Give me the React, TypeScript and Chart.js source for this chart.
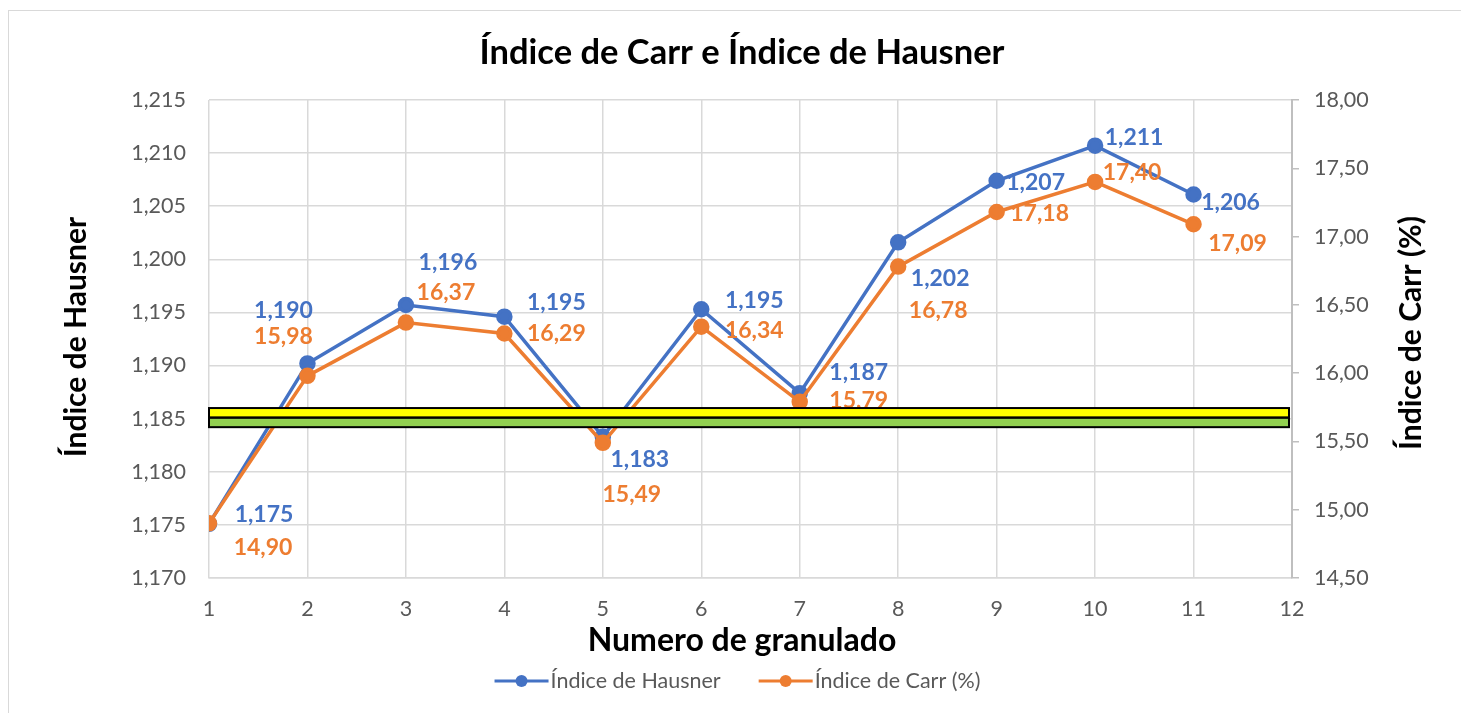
import React, { useEffect, useRef } from "react";
import { Chart, registerables } from "chart.js";

Chart.register(...registerables);

// ---- Data ----
const granulados = [1, 2, 3, 4, 5, 6, 7, 8, 9, 10, 11];
const hausner = [1.1751, 1.1902, 1.1957, 1.1946, 1.1833, 1.1953, 1.1874, 1.2016, 1.2074, 1.2107, 1.2061];
const carr = [14.9, 15.98, 16.37, 16.29, 15.49, 16.34, 15.79, 16.78, 17.18, 17.4, 17.09];

const xTicks = [1, 2, 3, 4, 5, 6, 7, 8, 9, 10, 11, 12];
const hausnerRange = [1.17, 1.215];
const carrRange = [14.5, 18.0];

// reference band (left axis units): yellow top, divider, green bottom
const bandLimits = [1.186, 1.1851, 1.1842];

const TITLE = "Índice de Carr e Índice de Hausner";
const X_TITLE = "Numero de granulado";
const Y_TITLE = "Índice de Hausner";
const Y2_TITLE = "Índice de Carr (%)";
const SERIES_NAMES = ["Índice de Hausner", "Índice de Carr (%)"];

// label offsets (px, relative to the point) - Excel manual label placement
const hausnerLabelOffsets = [
  [55, -9], [-24, -53], [42, -42], [52, -14], [37, 23], [53, -9], [59, -21], [42, 36], [39, 2], [39, -8], [37, 8],
];
const carrLabelOffsets = [
  [54, 24], [-24, -39], [40, -30], [52, 0], [29, 52], [53, 4], [59, -1], [40, 44], [43, 2], [37, -9], [44, 19],
];

const BLUE = "#4472C4";
const ORANGE = "#ED7D31";
const FONT = "Lato, 'Open Sans', sans-serif";
const fmt = (v: number, d: number) => v.toFixed(d).replace(".", ",");

export default function App() {
  const ref = useRef<HTMLCanvasElement | null>(null);

  useEffect(() => {
    const canvas = ref.current;
    if (!canvas) return;

    const overlay = {
      id: "overlay",
      afterDatasetsDraw(chart: any) {
        const ctx = chart.ctx;
        const xs = chart.scales.x;
        const ys = chart.scales.y;
        const ys2 = chart.scales.y1;
        ctx.save();
        ctx.font = `bold 23px ${FONT}`;
        ctx.textAlign = "center";
        ctx.textBaseline = "middle";
        granulados.forEach((g, i) => {
          const px = xs.getPixelForValue(g);
          ctx.fillStyle = BLUE;
          ctx.fillText(fmt(hausner[i], 3), px + hausnerLabelOffsets[i][0], ys.getPixelForValue(hausner[i]) + hausnerLabelOffsets[i][1]);
          ctx.fillStyle = ORANGE;
          ctx.fillText(fmt(carr[i], 2), px + carrLabelOffsets[i][0], ys2.getPixelForValue(carr[i]) + carrLabelOffsets[i][1]);
        });
        // band
        const ca = chart.chartArea;
        const yT = ys.getPixelForValue(bandLimits[0]);
        const yM = ys.getPixelForValue(bandLimits[1]);
        const yB = ys.getPixelForValue(bandLimits[2]);
        const l = ca.left;
        const r = ca.right - 3;
        ctx.fillStyle = "#FFFF00";
        ctx.fillRect(l, yT, r - l, yM - yT);
        ctx.fillStyle = "#92D050";
        ctx.fillRect(l, yM, r - l, yB - yM);
        ctx.strokeStyle = "#000000";
        ctx.lineWidth = 2;
        ctx.strokeRect(l, yT, r - l, yM - yT);
        ctx.strokeRect(l, yM, r - l, yB - yM);
        ctx.restore();
      },
      afterDraw(chart: any) {
        const ctx = chart.ctx;
        ctx.save();
        ctx.textAlign = "center";
        ctx.textBaseline = "middle";
        ctx.fillStyle = "#000000";
        ctx.font = `bold 34.5px ${FONT}`;
        ctx.fillText(TITLE, 742, 53);
        ctx.font = `bold 32px ${FONT}`;
        ctx.fillText(X_TITLE, 742, 641);
        ctx.font = `bold 30px ${FONT}`;
        ctx.save();
        ctx.translate(76, 337);
        ctx.rotate(-Math.PI / 2);
        ctx.fillText(Y_TITLE, 0, 0);
        ctx.restore();
        ctx.save();
        ctx.translate(1411, 333);
        ctx.rotate(-Math.PI / 2);
        ctx.fillText(Y2_TITLE, 0, 0);
        ctx.restore();
        // legend
        ctx.font = `21.5px ${FONT}`;
        ctx.textAlign = "left";
        const colors = [BLUE, ORANGE];
        const lineW = 54;
        const gapText = 2;
        const gapItem = 38;
        const widths = SERIES_NAMES.map((n) => ctx.measureText(n).width);
        const total = widths.reduce((a, b) => a + b, 0) + 2 * (lineW + gapText) + gapItem;
        let x = 737.5 - total / 2;
        const y = 681;
        SERIES_NAMES.forEach((n, i) => {
          ctx.strokeStyle = colors[i];
          ctx.lineWidth = 3;
          ctx.beginPath();
          ctx.moveTo(x, y);
          ctx.lineTo(x + lineW, y);
          ctx.stroke();
          ctx.fillStyle = colors[i];
          ctx.beginPath();
          ctx.arc(x + lineW / 2, y, 6, 0, Math.PI * 2);
          ctx.fill();
          ctx.fillStyle = "#595959";
          ctx.fillText(n, x + lineW + gapText, y);
          x += lineW + gapText + widths[i] + gapItem;
        });
        ctx.restore();
      },
    };

    const chart = new Chart(canvas, {
      type: "line",
      data: {
        datasets: [
          {
            label: SERIES_NAMES[0],
            data: granulados.map((g, i) => ({ x: g, y: hausner[i] })),
            yAxisID: "y",
            borderColor: BLUE,
            backgroundColor: BLUE,
            borderWidth: 3.5,
            pointRadius: 6.5,
            pointBackgroundColor: BLUE,
            pointBorderColor: BLUE,
            tension: 0,
            order: 2,
          },
          {
            label: SERIES_NAMES[1],
            data: granulados.map((g, i) => ({ x: g, y: carr[i] })),
            yAxisID: "y1",
            borderColor: ORANGE,
            backgroundColor: ORANGE,
            borderWidth: 3.5,
            pointRadius: 6.5,
            pointBackgroundColor: ORANGE,
            pointBorderColor: ORANGE,
            tension: 0,
            order: 1,
          },
        ],
      },
      options: {
        responsive: false,
        animation: false,
        layout: { padding: { top: 100, left: 0, right: 0, bottom: 0 } },
        plugins: {
          legend: { display: false },
          title: { display: false },
          tooltip: { enabled: false },
        },
        scales: {
          x: {
            type: "linear",
            min: xTicks[0],
            max: xTicks[xTicks.length - 1],
            afterBuildTicks: (s: any) => {
              s.ticks = xTicks.map((v) => ({ value: v }));
            },
            afterFit: (s: any) => {
              s.height = 135;
            },
            ticks: {
              padding: 18,
              color: "#595959",
              font: { family: FONT, size: 21.5 },
              callback: (v: any) => String(v),
            },
            grid: { color: "#D9D9D9", lineWidth: 1.5, drawTicks: false },
            border: { display: true, color: "#D9D9D9", width: 1.5 },
          },
          y: {
            type: "linear",
            position: "left",
            min: hausnerRange[0],
            max: hausnerRange[1],
            ticks: {
              stepSize: 0.005,
              padding: 23,
              color: "#595959",
              font: { family: FONT, size: 21.5 },
              callback: (v: any) => fmt(Number(v), 3),
            },
            afterFit: (s: any) => {
              s.width = 209;
            },
            grid: { color: "#D9D9D9", lineWidth: 1.5, drawTicks: false },
            border: { display: false },
          },
          y1: {
            type: "linear",
            position: "right",
            min: carrRange[0],
            max: carrRange[1],
            ticks: {
              stepSize: 0.5,
              padding: 15,
              color: "#595959",
              font: { family: FONT, size: 21.5 },
              callback: (v: any) => fmt(Number(v), 2),
            },
            afterFit: (s: any) => {
              s.width = 169;
            },
            grid: { drawOnChartArea: false, drawTicks: true, tickLength: 7, color: "#BFBFBF", lineWidth: 1.5 },
            border: { display: true, color: "#BFBFBF", width: 2 },
          },
        },
      },
      plugins: [overlay],
    } as any);

    return () => chart.destroy();
  }, []);

  return (
    <div style={{ position: "absolute", left: 0, top: 0, width: 1461, height: 713, background: "#fff", overflow: "hidden" }}>
      <div
        style={{
          position: "absolute",
          left: 8,
          top: 10,
          width: 1480,
          height: 720,
          border: "1px solid #D9D9D9",
        }}
      />
      <canvas ref={ref} width={1461} height={713} style={{ position: "absolute", left: 0, top: 0, width: 1461, height: 713 }} />
    </div>
  );
}
